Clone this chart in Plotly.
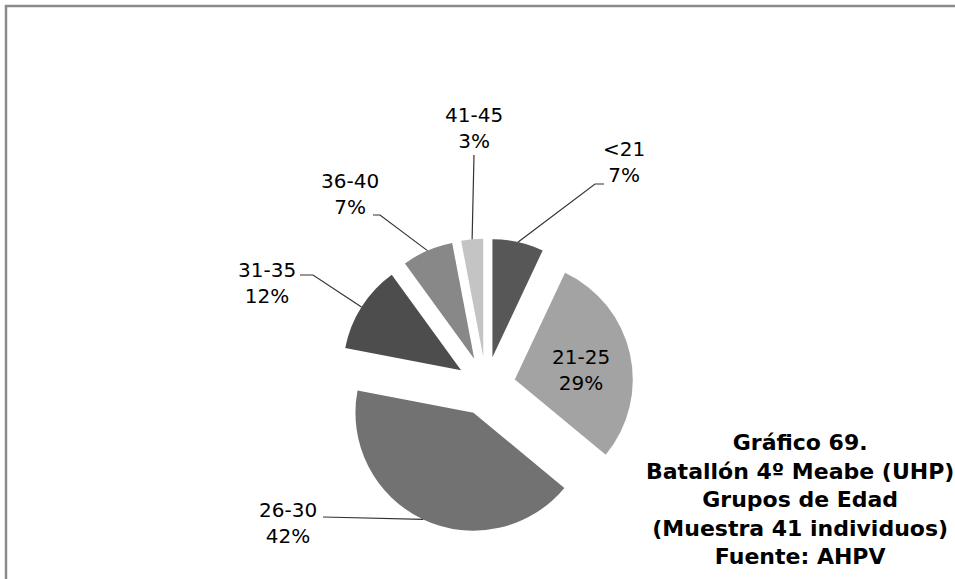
import math
import plotly.graph_objects as go

grupos = ['<21', '21-25', '26-30', '31-35', '36-40', '41-45']
porcentajes = [7, 29, 42, 12, 7, 3]
colores = ['#575757', '#a3a3a3', '#727272', '#4d4d4d', '#888888', '#c4c4c4']

titulo = ['Gráfico 69.', 'Batallón 4º Meabe (UHP)', 'Grupos de Edad',
          '(Muestra 41 individuos)', 'Fuente: AHPV']

W, H = 955, 579
cx, cy, R, PULL = 486, 386, 118, 0.25
half = R * (1 + PULL)


def X(x):
    return x / W


def Y(y):
    return 1 - y / H


fig = go.Figure()
fig.add_trace(go.Pie(
    labels=grupos, values=porcentajes, sort=False, direction='clockwise',
    rotation=0, pull=[PULL] * len(grupos), textinfo='none', hoverinfo='label+percent',
    marker=dict(colors=colores, line=dict(width=0)),
    domain=dict(x=[X(cx - half), X(cx + half)], y=[Y(cy + half), Y(cy - half)]),
    showlegend=False,
))

# label placement (pixels): label centre, leader line points after the slice edge
etiquetas = {
    '<21': ((624, 162), [(595, 184), (604, 184)]),
    '21-25': ((581, 370), None),
    '26-30': ((288, 523), [(323, 517)]),
    '31-35': ((267, 283), [(313, 275), (300, 275)]),
    '36-40': ((350, 194), [(380, 215), (373, 215)]),
    '41-45': ((474, 128), [(474, 155)]),
}

total = sum(porcentajes)
acum = 0
for g, v in zip(grupos, porcentajes):
    mid = (acum + v / 2) / total * 2 * math.pi
    acum += v
    dx, dy = math.sin(mid), -math.cos(mid)
    px = cx + PULL * R * dx + R * dx
    py = cy + PULL * R * dy + R * dy
    (lx, ly), linea = etiquetas[g]
    fig.add_annotation(x=X(lx), y=Y(ly), xref='paper', yref='paper',
                       xanchor='center', yanchor='middle',
                       text=f'{g}<br>{v}%', showarrow=False, align='center',
                       font=dict(family='DejaVu Sans', size=20, color='black'))
    if linea:
        pts = [(px, py)] + linea
        path = 'M ' + ' L '.join(f'{X(a)},{Y(b)}' for a, b in pts)
        fig.add_shape(type='path', path=path, xref='paper', yref='paper',
                      line=dict(color='#333333', width=1.2))

fig.add_annotation(x=X(800), y=Y(499), xref='paper', yref='paper',
                   xanchor='center', yanchor='middle',
                   text='<br>'.join(f'<b>{t}</b>' for t in titulo), showarrow=False,
                   align='center', font=dict(family='DejaVu Sans', size=22, color='black'))

# chart frame (cut at right and bottom)
fig.add_shape(type='rect', xref='paper', yref='paper', x0=X(6), y0=-0.02, x1=1.02, y1=Y(6),
              line=dict(color='#8a8a8a', width=2.5))

fig.update_layout(width=W, height=H, margin=dict(l=0, r=0, t=0, b=0),
                  paper_bgcolor='white', plot_bgcolor='white')

fig.write_html('out.html', config={'displayModeBar': False},
               post_script="document.body.style.margin='0';document.body.style.overflow='hidden';")
